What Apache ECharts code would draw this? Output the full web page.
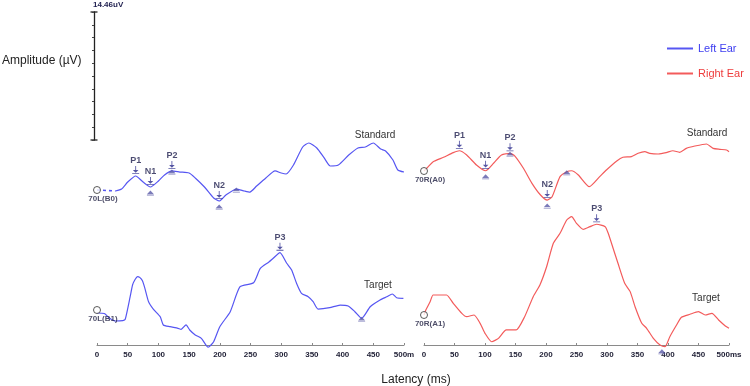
<!DOCTYPE html>
<html>
<head>
<meta charset="utf-8">
<script src="https://cdn.jsdelivr.net/npm/echarts@6/dist/echarts.min.js"></script>
<style>html,body{margin:0;padding:0;background:#fff}#c{width:750px;height:386px}</style>
</head>
<body>
<div id="c"></div>
<script>
// ---------- DATA (latency in ms, amplitude in µV relative to each trace's start) ----------
const latencyTicks = [0, 50, 100, 150, 200, 250, 300, 350, 400, 450, 500];
const scaleBarUv = 14.46;

const leftStdMs  = [0,30,40,50,63,75,87,100,110,122,135,150,160,175,190,199,210,227,240,249,260,275,290,300,308,320,335,345,358,370,380,393,410,425,437,450,462,470,482,490,500];
const leftStdUv  = [0,-0.11,0.11,0.9,1.58,0.9,0.34,1.02,1.69,2.15,2.03,1.92,1.36,0.34,-0.9,-1.24,-0.56,0.11,-0.11,-0.23,0.45,1.36,2.15,1.92,1.81,2.82,4.86,5.31,4.75,3.62,2.71,2.82,3.95,4.75,4.86,5.31,4.63,4.41,3.39,2.26,2.03];

const leftTgtMs  = [0,12,20,30,42,46,54,58,62,66,70,74,78,84,92,103,108,119,132,137,145,151,160,170,181,190,200,217,233,255,266,280,287,298,309,317,325,333,344,352,360,379,396,409,420,431,445,461,472,481,488,499];
const leftTgtUv  = [-0.34,-0.4,-0.9,-1.24,-1.19,-1.05,1.5,2.85,3.45,3.78,3.66,3.3,2.45,0.94,0.08,-0.76,-1.69,-1.88,-2.07,-2.18,-1.69,-2.26,-2.82,-3.2,-4.21,-3.58,-1.89,-0.19,2.63,3.08,4.7,5.42,5.84,6.48,5.28,4.52,3.02,1.89,1.5,0.94,0.11,0.26,0.56,0.45,-0.19,-0.94,0.37,1.13,1.5,1.81,1.39,1.32];

const rightStdMs = [0,7,15,32,48,58,70,86,101,114,127,141,149,163,177,191,202,210,223,234,242,253,271,288,299,316,326,340,351,362,370,384,397,408,419,430,444,463,474,485,496,500];
const rightStdUv = [0,0.49,1.05,1.55,2.07,2.29,1.81,0.68,0.03,0.87,1.81,2.0,1.69,0.31,-1.39,-2.71,-3.28,-2.91,-0.64,-0.08,0.03,-0.45,-1.77,-0.64,0.11,1.13,1.55,1.62,2.0,2.18,2.0,1.92,2.07,2.29,2.11,2.56,2.82,3.05,2.56,2.45,2.37,2.18];

const rightTgtMs = [0,3,10,15,26,37,48,62,70,82,92,100,111,122,135,151,165,179,190,201,212,223,234,242,250,261,272,283,297,302,310,318,329,338,346,357,365,376,387,395,403,414,422,436,450,461,472,483,494,500];
const rightTgtUv = [0,0.56,1.5,2.26,2.26,2.26,1.32,0.19,-0.19,0,-0.94,-2.07,-3.02,-2.64,-1.69,-1.69,-0.19,2.07,3.39,5.45,8.1,9.23,10.73,11.11,10.36,9.68,9.98,10.25,9.98,9.23,7.54,5.84,3.58,2.64,0.94,-0.94,-1.5,-2.64,-3.39,-3.58,-2.45,-1.13,-0.26,0.08,0.37,0,0.19,-0.56,-1.24,-1.5];

// peak annotations
const leftStdPeakNames  = ['P1','N1','P2','N2'];
const leftStdPeakMs     = [63, 87, 122, 199];
const leftStdTriMs      = [87, 122, 199, 227];
const leftStdTriTrough  = [true, false, true, false];
const leftTgtPeakNames  = ['P3'];
const leftTgtPeakMs     = [298];
const leftTgtTriMs      = [431];
const leftTgtTriTrough  = [false];
const rightStdPeakNames = ['P1','N1','P2','N2'];
const rightStdPeakMs    = [58, 101, 141, 202];
const rightStdTriMs     = [101, 141, 202, 234];
const rightStdTriTrough = [true, false, true, false];
const rightTgtPeakNames = ['P3'];
const rightTgtPeakMs    = [283];
const rightTgtTriMs     = [390];
const rightTgtTriTrough = [true];

const traceLabels = ['70L(B0)', '70L(B1)', '70R(A0)', '70R(A1)'];
const legendNames = ['Left Ear', 'Right Ear'];

// ---------- LAYOUT ----------
const BLUE = '#5656f2', RED = '#f35b5b', MARK = '#2b2b8c';
const FONT = '"Liberation Sans", Arial, sans-serif';
const AXIS_Y = 345, TOP = 12, PLOT_H = AXIS_Y - TOP;
const SCALE_PX = 128;
const pxPerUv = SCALE_PX / scaleBarUv;
function yRange(baselineY) {
  const min = -(AXIS_Y - baselineY) / pxPerUv;
  return { min: min, max: min + PLOT_H / pxPerUv };
}
const baseY = { leftStd: 190, leftTgt: 310, rightStd: 171, rightTgt: 315 };

function pairs(ms, uv) { return ms.map((m, i) => [m, uv[i]]); }
function interp(ms, uv, t) {
  for (let i = 1; i < ms.length; i++) {
    if (t <= ms[i]) {
      const f = (t - ms[i - 1]) / (ms[i] - ms[i - 1]);
      return uv[i - 1] + f * (uv[i] - uv[i - 1]);
    }
  }
  return uv[uv.length - 1];
}

const arrowPath = 'path://M4.4,0 L5.6,0 L5.6,6 L9,6 L5,10 L1,6 L4.4,6 Z M0,10.6 L10,10.6 L10,11.8 L0,11.8 Z';
const triPath = 'path://M5,0 L10,6 L0,6 Z M0,7 L10,7 L10,8 L0,8 Z';

function traceSeries(name, color, xi, yi, ms, uv, dashedUntil) {
  const out = [];
  const all = pairs(ms, uv);
  if (dashedUntil) {
    out.push({
      type: 'line', name: name, xAxisIndex: xi, yAxisIndex: yi,
      data: all.filter(p => p[0] <= dashedUntil),
      showSymbol: false, smooth: false, clip: false,
      lineStyle: { color: color, width: 1.6, type: [3, 3] }, itemStyle: { color: color },
      silent: true, z: 3
    });
  }
  out.push({
    type: 'line', name: name, xAxisIndex: xi, yAxisIndex: yi,
    data: dashedUntil ? all.filter(p => p[0] >= dashedUntil) : all,
    showSymbol: false, smooth: 0.2, clip: false,
    lineStyle: { color: color, width: 1.2 }, itemStyle: { color: color },
    silent: true, z: 3
  });
  return out;
}
function markSeries(xi, yi, ms, uv, peakNames, peakMs, triMs, triTrough, label) {
  return [
    {
      type: 'scatter', name: 'origin', xAxisIndex: xi, yAxisIndex: yi, clip: false,
      data: [[0, uv[0] > 0.2 || uv[0] < -0.2 ? 0 : uv[0]]],
      symbol: 'circle', symbolSize: 7,
      itemStyle: { color: '#fff', borderColor: '#333', borderWidth: 1 },
      label: { show: true, position: 'bottom', distance: 1, offset: [6, 0], formatter: label,
               fontFamily: FONT, fontWeight: 'bold', fontSize: 8, color: '#222244' },
      z: 5
    },
    {
      type: 'scatter', name: 'peaks', xAxisIndex: xi, yAxisIndex: yi, clip: false,
      data: peakMs.map((m, i) => ({ value: [m, interp(ms, uv, m)], name: peakNames[i] })),
      symbol: arrowPath, symbolSize: [7, 8], symbolOffset: [0, -6],
      itemStyle: { color: MARK },
      label: { show: true, position: 'top', distance: 1, formatter: '{b}',
               fontFamily: FONT, fontWeight: 'bold', fontSize: 9, color: '#1e1e4e' },
      z: 6
    },
    {
      type: 'scatter', name: 'tri', xAxisIndex: xi, yAxisIndex: yi, clip: false,
      data: triMs.map((m, i) => ({ value: [m, interp(ms, uv, m)], symbolOffset: [0, triTrough[i] ? 6 : 1] })),
      symbol: triPath, symbolSize: [7, 5],
      itemStyle: { color: '#5a5aa8' },
      z: 6
    }
  ];
}

const axisLabelStyle = {
  fontFamily: FONT, fontWeight: 'bold', fontSize: 8, color: '#1d1d33', margin: 6
};
function xAxis(gi, lastLabel) {
  return {
    gridIndex: gi, type: 'value', min: latencyTicks[0], max: latencyTicks[latencyTicks.length - 1],
    interval: latencyTicks[1] - latencyTicks[0], position: 'bottom',
    axisLine: { show: true, onZero: false, lineStyle: { color: '#8a8a8a', width: 1 } },
    axisTick: { show: true, inside: true, length: 2, lineStyle: { color: '#8a8a8a' } },
    splitLine: { show: false },
    axisLabel: Object.assign({ formatter: v => v === 500 ? lastLabel : String(v) }, axisLabelStyle)
  };
}
function yAxisHidden(gi, r) {
  return { gridIndex: gi, type: 'value', min: r.min, max: r.max, show: false, splitLine: { show: false } };
}

const chart = echarts.init(document.getElementById('c'), null, { renderer: 'canvas' });
const option = {
  animation: false,
  backgroundColor: '#fff',
  grid: [
    { left: 97, top: TOP, width: 307, height: PLOT_H },
    { left: 424, top: TOP, width: 305, height: PLOT_H },
    { left: 94, top: TOP, width: 1, height: SCALE_PX }
  ],
  xAxis: [xAxis(0, '500m'), xAxis(1, '500ms'), { gridIndex: 2, type: 'value', show: false }],
  yAxis: [
    yAxisHidden(0, yRange(baseY.leftTgt)),
    yAxisHidden(0, yRange(baseY.leftStd)),
    yAxisHidden(1, yRange(baseY.rightTgt)),
    yAxisHidden(1, yRange(baseY.rightStd)),
    {
      gridIndex: 2, type: 'value', min: 0, max: scaleBarUv, interval: scaleBarUv / 10,
      axisLine: { show: true, lineStyle: { color: '#222', width: 1.3 } },
      axisTick: { show: true, length: 2, lineStyle: { color: '#444' } },
      axisLabel: { show: false }, splitLine: { show: false },
      name: scaleBarUv.toFixed(2) + 'uV', nameLocation: 'end', nameGap: 3,
      nameTextStyle: { fontFamily: FONT, fontWeight: 'bold', fontSize: 8, color: '#1e1e4e', align: 'left', padding: [0, 0, 0, -1] }
    }
  ],
  legend: {
    orient: 'vertical', left: 662, top: 38, itemGap: 14,
    itemWidth: 26, itemHeight: 2, icon: 'rect',
    textStyle: { fontFamily: FONT, fontSize: 11 },
    data: [
      { name: legendNames[0], textStyle: { color: '#3d3df0' } },
      { name: legendNames[1], textStyle: { color: '#ee3c3c' } }
    ],
    selectedMode: false
  },
  graphic: [
    { type: 'text', left: 2, top: 55, style: { text: 'Amplitude (µV)', font: '12px ' + FONT, fill: '#222' } },
    { type: 'text', x: 416, y: 380, style: { text: 'Latency (ms)', font: '12px ' + FONT, fill: '#222', textAlign: 'center', textVerticalAlign: 'middle' } },
    { type: 'line', shape: { x1: 90.5, y1: 12, x2: 97.5, y2: 12 }, style: { stroke: '#222', lineWidth: 1.3 } },
    { type: 'line', shape: { x1: 90.5, y1: 140, x2: 97.5, y2: 140 }, style: { stroke: '#222', lineWidth: 1.3 } },
    { type: 'text', x: 375, y: 135, style: { text: 'Standard', font: '10px ' + FONT, fill: '#333', textAlign: 'center', textVerticalAlign: 'middle' } },
    { type: 'text', x: 707, y: 133, style: { text: 'Standard', font: '10px ' + FONT, fill: '#333', textAlign: 'center', textVerticalAlign: 'middle' } },
    { type: 'text', x: 378, y: 285, style: { text: 'Target', font: '10px ' + FONT, fill: '#333', textAlign: 'center', textVerticalAlign: 'middle' } },
    { type: 'text', x: 706, y: 298, style: { text: 'Target', font: '10px ' + FONT, fill: '#333', textAlign: 'center', textVerticalAlign: 'middle' } }
  ],
  series: [].concat(
    traceSeries(legendNames[0], BLUE, 0, 1, leftStdMs, leftStdUv, 30),
    traceSeries(legendNames[0], BLUE, 0, 0, leftTgtMs, leftTgtUv, 0),
    traceSeries(legendNames[1], RED, 1, 3, rightStdMs, rightStdUv, 0),
    traceSeries(legendNames[1], RED, 1, 2, rightTgtMs, rightTgtUv, 0),
    markSeries(0, 1, leftStdMs, leftStdUv, leftStdPeakNames, leftStdPeakMs, leftStdTriMs, leftStdTriTrough, traceLabels[0]),
    markSeries(0, 0, leftTgtMs, leftTgtUv, leftTgtPeakNames, leftTgtPeakMs, leftTgtTriMs, leftTgtTriTrough, traceLabels[1]),
    markSeries(1, 3, rightStdMs, rightStdUv, rightStdPeakNames, rightStdPeakMs, rightStdTriMs, rightStdTriTrough, traceLabels[2]),
    markSeries(1, 2, rightTgtMs, rightTgtUv, rightTgtPeakNames, rightTgtPeakMs, rightTgtTriMs, rightTgtTriTrough, traceLabels[3])
  )
};
chart.setOption(option);
</script>
</body>
</html>
